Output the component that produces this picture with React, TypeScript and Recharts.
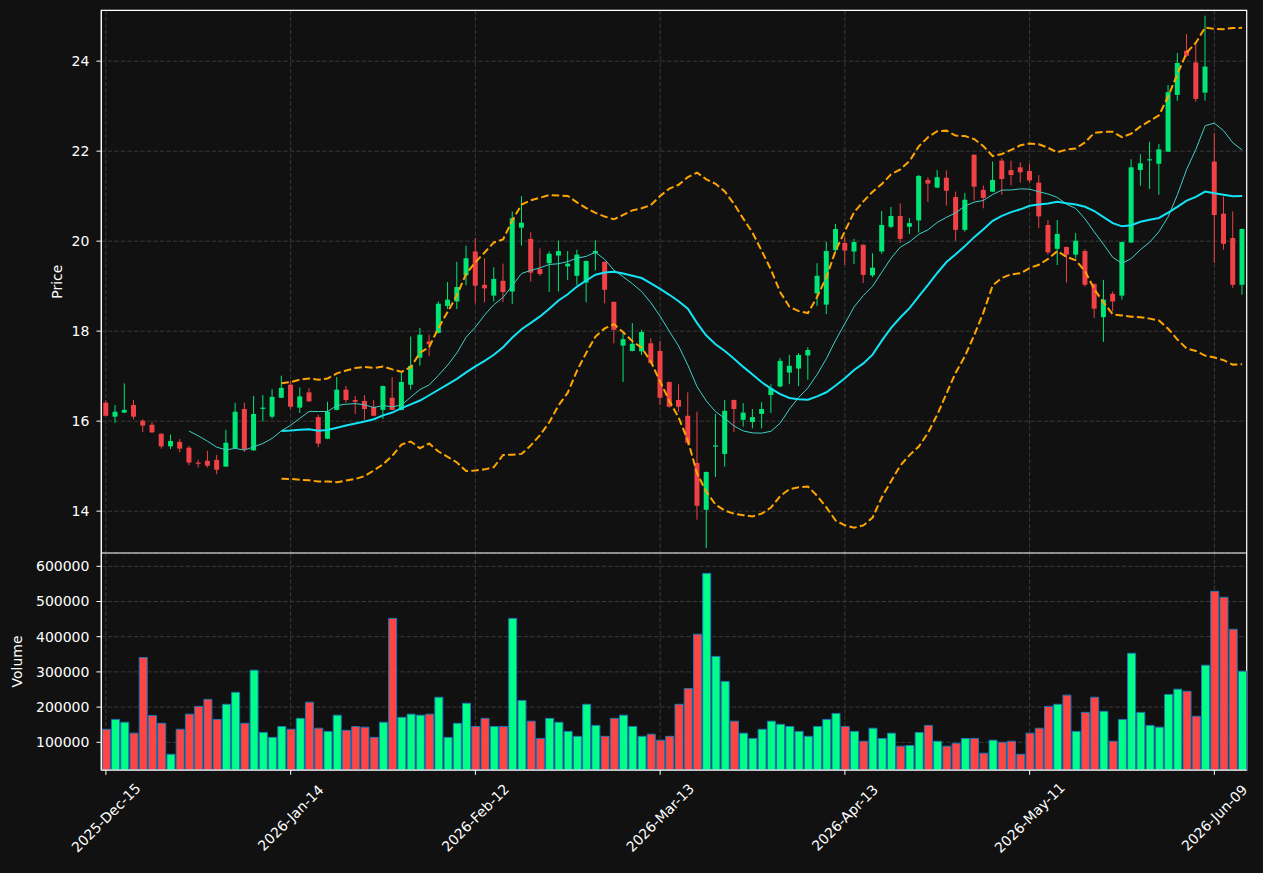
import React from 'react';
import { ComposedChart, Bar, Line, XAxis, YAxis, CartesianGrid, ReferenceArea, Cell } from 'recharts';

const dates = [
  '2025-Dec-15','2025-Dec-16','2025-Dec-17','2025-Dec-18','2025-Dec-19','2025-Dec-22','2025-Dec-23','2025-Dec-24','2025-Dec-26','2025-Dec-29',
  '2025-Dec-30','2025-Dec-31','2026-Jan-02','2026-Jan-05','2026-Jan-06','2026-Jan-07','2026-Jan-08','2026-Jan-09','2026-Jan-12','2026-Jan-13',
  '2026-Jan-14','2026-Jan-15','2026-Jan-16','2026-Jan-20','2026-Jan-21','2026-Jan-22','2026-Jan-23','2026-Jan-26','2026-Jan-27','2026-Jan-28',
  '2026-Jan-29','2026-Jan-30','2026-Feb-02','2026-Feb-03','2026-Feb-04','2026-Feb-05','2026-Feb-06','2026-Feb-09','2026-Feb-10','2026-Feb-11',
  '2026-Feb-12','2026-Feb-13','2026-Feb-17','2026-Feb-18','2026-Feb-19','2026-Feb-20','2026-Feb-23','2026-Feb-24','2026-Feb-25','2026-Feb-26',
  '2026-Feb-27','2026-Mar-02','2026-Mar-03','2026-Mar-04','2026-Mar-05','2026-Mar-06','2026-Mar-09','2026-Mar-10','2026-Mar-11','2026-Mar-12',
  '2026-Mar-13','2026-Mar-16','2026-Mar-17','2026-Mar-18','2026-Mar-19','2026-Mar-20','2026-Mar-23','2026-Mar-24','2026-Mar-25','2026-Mar-26',
  '2026-Mar-27','2026-Mar-30','2026-Mar-31','2026-Apr-01','2026-Apr-02','2026-Apr-06','2026-Apr-07','2026-Apr-08','2026-Apr-09','2026-Apr-10',
  '2026-Apr-13','2026-Apr-14','2026-Apr-15','2026-Apr-16','2026-Apr-17','2026-Apr-20','2026-Apr-21','2026-Apr-22','2026-Apr-23','2026-Apr-24',
  '2026-Apr-27','2026-Apr-28','2026-Apr-29','2026-Apr-30','2026-May-01','2026-May-04','2026-May-05','2026-May-06','2026-May-07','2026-May-08',
  '2026-May-11','2026-May-12','2026-May-13','2026-May-14','2026-May-15','2026-May-18','2026-May-19','2026-May-20','2026-May-21','2026-May-22',
  '2026-May-26','2026-May-27','2026-May-28','2026-May-29','2026-Jun-01','2026-Jun-02','2026-Jun-03','2026-Jun-04','2026-Jun-05','2026-Jun-08',
  '2026-Jun-09','2026-Jun-10','2026-Jun-11','2026-Jun-12',
];

const opens = [
  16.41,16.10,16.19,16.36,16.01,15.92,15.72,15.44,15.54,15.41,
  15.08,15.12,15.14,14.99,15.40,16.27,15.35,16.28,16.10,16.52,
  16.81,16.30,16.64,16.09,15.61,16.25,16.70,16.47,16.45,16.32,
  16.25,16.52,16.25,16.81,17.41,17.77,17.96,18.56,18.66,19.24,
  19.77,19.03,18.79,19.12,18.88,20.30,20.05,19.38,19.51,19.68,
  19.44,19.23,19.08,19.73,19.54,18.65,17.68,17.56,17.55,17.73,
  17.56,16.87,16.47,16.12,15.07,14.03,15.44,15.27,16.47,16.03,
  15.98,16.16,16.58,16.77,17.08,17.17,17.46,18.84,18.59,19.80,
  19.96,19.77,19.92,19.24,19.77,20.32,20.56,20.32,20.46,21.36,
  21.19,21.41,20.98,20.25,21.92,21.14,21.10,21.79,21.58,21.64,
  21.56,21.30,20.36,19.83,19.87,19.70,19.78,19.05,18.31,18.83,
  18.79,19.97,21.58,21.80,21.72,21.99,23.25,24.23,23.97,23.30,
  21.77,20.61,20.07,19.03,
];
const highs = [
  16.46,16.36,16.84,16.47,16.04,15.98,15.73,15.70,15.60,15.45,
  15.14,15.34,15.25,15.81,16.41,16.41,16.56,16.58,16.71,17.01,
  16.90,16.75,16.73,16.14,16.43,16.98,16.78,16.56,16.58,16.47,
  16.79,16.98,17.07,17.88,18.07,17.92,18.66,19.09,19.54,19.90,
  20.07,19.62,19.42,19.50,20.66,21.00,20.20,19.84,19.77,20.01,
  19.78,19.81,19.57,20.02,19.55,18.66,17.96,18.18,18.03,17.84,
  17.78,16.88,16.82,16.64,16.21,14.88,16.16,16.47,16.48,16.40,
  16.27,16.42,16.82,17.40,17.47,17.51,17.64,19.51,19.98,20.38,
  20.10,20.05,19.93,19.73,20.67,20.76,20.84,20.51,21.47,21.42,
  21.58,21.57,21.10,21.07,21.93,21.24,21.77,21.84,21.79,21.75,
  21.72,21.47,20.47,20.47,19.88,20.18,19.82,19.06,19.14,18.88,
  19.99,21.82,21.93,22.21,22.16,23.47,24.18,24.60,24.40,25.01,
  22.40,20.99,20.66,20.28,
];
const lows = [
  16.11,15.96,16.18,16.04,15.76,15.74,15.39,15.38,15.31,15.02,
  14.97,14.97,14.82,14.98,15.39,15.32,15.34,15.99,16.06,16.51,
  16.27,16.18,16.43,15.42,15.60,16.24,16.41,16.16,16.03,16.11,
  16.05,16.24,16.24,16.70,17.23,17.44,17.95,18.49,18.49,19.02,
  18.62,18.64,18.66,18.64,18.60,19.90,19.10,19.23,18.87,18.88,
  19.14,19.03,18.64,19.35,18.62,17.73,16.87,17.55,17.47,17.28,
  16.36,16.30,16.21,15.47,13.81,13.18,14.76,14.99,15.76,15.88,
  15.84,15.84,16.18,16.75,16.82,16.78,16.92,18.56,18.38,19.75,
  19.47,19.49,19.07,19.20,19.72,20.29,19.96,20.16,20.19,20.87,
  21.18,20.79,20.01,20.21,20.90,20.73,21.09,21.03,21.24,21.30,
  21.30,20.29,19.70,19.47,19.08,19.62,18.99,18.29,17.76,18.44,
  18.70,19.96,21.23,21.16,21.03,21.98,23.12,24.10,23.10,23.12,
  19.51,19.81,18.96,18.81,
];
const closes = [
  16.12,16.21,16.25,16.10,15.90,15.75,15.44,15.56,15.39,15.08,
  15.06,15.01,14.92,15.52,16.21,15.38,16.16,16.30,16.54,16.74,
  16.32,16.55,16.44,15.50,16.21,16.70,16.47,16.43,16.27,16.12,
  16.78,16.25,16.87,17.23,17.92,17.71,18.61,18.70,18.98,19.62,
  19.01,18.95,19.16,18.87,20.51,20.41,19.30,19.27,19.72,19.78,
  19.50,19.70,19.56,19.78,18.92,18.03,17.82,17.72,17.98,17.29,
  16.52,16.32,16.32,15.52,14.12,14.87,15.46,16.23,16.27,16.19,
  16.09,16.27,16.73,17.34,17.23,17.47,17.58,19.23,19.78,20.27,
  19.79,19.98,19.25,19.41,20.36,20.56,20.05,20.40,21.45,21.28,
  21.42,21.12,20.25,20.92,21.21,20.96,21.36,21.38,21.47,21.53,
  21.35,20.55,19.75,20.16,19.70,20.01,19.03,18.50,18.70,18.66,
  19.98,21.64,21.73,21.82,22.04,23.31,23.96,24.12,23.16,23.88,
  20.58,19.94,19.03,20.27,
];
const volumes = [
  137000,165000,157000,126000,341000,176000,154000,66000,137000,180000,
  202000,222000,165000,208000,242000,154000,305000,128000,114000,145000,
  137000,168000,214000,140000,131000,177000,134000,145000,143000,114000,
  157000,452000,171000,180000,177000,180000,228000,114000,154000,211000,
  145000,168000,145000,145000,452000,219000,160000,111000,168000,157000,
  131000,117000,208000,148000,117000,168000,177000,145000,117000,123000,
  106000,117000,208000,253000,407000,580000,344000,273000,160000,126000,
  111000,137000,160000,151000,145000,131000,117000,145000,165000,182000,
  145000,131000,103000,140000,111000,126000,89000,91000,128000,148000,
  103000,89000,97000,111000,111000,69000,106000,100000,103000,66000,
  126000,140000,202000,208000,234000,131000,185000,228000,188000,103000,
  165000,353000,185000,148000,143000,236000,251000,245000,174000,319000,
  529000,512000,421000,302000,
];

const xTickLabels = ['2025-Dec-15', '2026-Jan-14', '2026-Feb-12', '2026-Mar-13', '2026-Apr-13', '2026-May-11', '2026-Jun-09'];
const priceTicks = [14, 16, 18, 20, 22, 24];
const volumeTicks = [100000, 200000, 300000, 400000, 500000, 600000];
const priceDomain = [13.07, 25.13];
const volumeDomain = [21300, 637800];

const BG = '#111111';
const CANDLE_UP = '#00e676';
const CANDLE_DOWN = '#ef4146';
const VOL_UP = '#00ff88';
const VOL_DOWN = '#ff4444';
const GRID = '#3a3a3a';
const FONT = 'DejaVu Sans, sans-serif';

const sma = (arr: number[], n: number) =>
  arr.map((_, i) => (i < n - 1 ? null : arr.slice(i - n + 1, i + 1).reduce((a, b) => a + b, 0) / n));
const rollStd = (arr: number[], n: number) =>
  arr.map((_, i) => {
    if (i < n - 1) return null;
    const w = arr.slice(i - n + 1, i + 1);
    const m = w.reduce((a, b) => a + b, 0) / n;
    return Math.sqrt(w.reduce((a, b) => a + (b - m) * (b - m), 0) / n);
  });

const ma10 = sma(closes, 10);
const ma20 = sma(closes, 20);
const sd20 = rollStd(closes, 20);

const data = dates.map((date, i) => ({
  date,
  open: opens[i],
  high: highs[i],
  low: lows[i],
  close: closes[i],
  range: [lows[i], highs[i]],
  volume: volumes[i],
  up: closes[i] >= opens[i],
  ma10: ma10[i],
  ma20: ma20[i],
  upper: ma20[i] == null ? null : (ma20[i] as number) + 2 * (sd20[i] as number),
  lower: ma20[i] == null ? null : (ma20[i] as number) - 2 * (sd20[i] as number),
}));

const Candle = (props: any) => {
  const { x, y, width, height, payload } = props;
  if (x == null || y == null || !payload) return null;
  const { open, close, high, low } = payload;
  const top = Math.min(y, y + height);
  const h = Math.abs(height);
  const span = high - low;
  const toY = (v: number) => (span > 0 ? top + ((high - v) / span) * h : top);
  const color = close >= open ? CANDLE_UP : CANDLE_DOWN;
  const cx = x + width / 2;
  const bTop = toY(Math.max(open, close));
  const bBot = toY(Math.min(open, close));
  return (
    <g>
      <line x1={cx} x2={cx} y1={top} y2={top + h} stroke={color} strokeWidth={1} />
      <rect x={x} y={bTop} width={width} height={Math.max(bBot - bTop, 1.2)} fill={color} />
    </g>
  );
};

const axisLabel = (text: string, dx: number) => (p: any) => {
  const vb = p && p.viewBox ? p.viewBox : { x: 0, y: 0, width: 0, height: 0 };
  const cx = vb.x + dx;
  const cy = vb.y + vb.height / 2;
  return (
    <text x={cx} y={cy} transform={`rotate(-90, ${cx}, ${cy})`} textAnchor="middle" dominantBaseline="central"
      fill="#ffffff" fontSize={14} fontFamily={FONT}>
      {text}
    </text>
  );
};

const XTick = (props: any) => {
  const { x, y, payload } = props;
  const cy = y + 38;
  return (
    <text x={x} y={cy} transform={`rotate(-45, ${x}, ${cy})`} textAnchor="middle" dominantBaseline="central"
      fill="#ffffff" fontSize={14} fontFamily={FONT}>
      {payload.value}
    </text>
  );
};

const tickStyle = { fill: '#ffffff', fontSize: 14, fontFamily: FONT };

export default function App() {
  return (
    <div style={{ position: 'absolute', left: 0, top: 0, width: 1263, height: 873, background: BG, fontFamily: FONT }}>
      <div style={{ position: 'absolute', left: 0, top: 0 }}>
        <ComposedChart width={1263} height={553} data={data} margin={{ top: 10.3, right: 16.3, bottom: 0, left: 0 }} barGap={0}>
          <CartesianGrid stroke={GRID} strokeDasharray="4.5 2" ticks={undefined as any} />
          <XAxis dataKey="date" type="category" hide ticks={xTickLabels} interval={0} />
          <YAxis
            type="number"
            domain={priceDomain}
            allowDataOverflow
            ticks={priceTicks}
            width={101.3}
            tick={tickStyle}
            tickSize={4.86}
            tickMargin={7}
            tickLine={{ stroke: '#ffffff' }}
            axisLine={{ stroke: '#ffffff' }}
            label={axisLabel('Price', 57)}
          />
          <Line type="linear" dataKey="upper" stroke="#ffa500" strokeWidth={2} strokeDasharray="7.5 3.3" dot={false} isAnimationActive={false} />
          <Line type="linear" dataKey="lower" stroke="#ffa500" strokeWidth={2} strokeDasharray="7.5 3.3" dot={false} isAnimationActive={false} />
          <Bar dataKey="range" barSize={5} shape={Candle} isAnimationActive={false} />
          <Line type="linear" dataKey="ma10" stroke="#3fcfc6" strokeWidth={1} dot={false} isAnimationActive={false} />
          <Line type="linear" dataKey="ma20" stroke="#12e4f5" strokeWidth={2} dot={false} isAnimationActive={false} />
          <ReferenceArea y1={priceDomain[0]} y2={priceDomain[1]} fill="none" stroke="#ffffff" strokeWidth={1.2} ifOverflow="visible" />
        </ComposedChart>
      </div>
      <div style={{ position: 'absolute', left: 0, top: 553 }}>
        <ComposedChart width={1263} height={320} data={data} margin={{ top: 0, right: 16.3, bottom: 0, left: 0 }}>
          <CartesianGrid stroke={GRID} strokeDasharray="4.5 2" />
          <XAxis
            dataKey="date"
            type="category"
            ticks={xTickLabels}
            interval={0}
            height={103}
            tick={<XTick />}
            tickSize={4.86}
            tickMargin={4.86}
            tickLine={{ stroke: '#ffffff' }}
            axisLine={{ stroke: '#ffffff' }}
          />
          <YAxis
            type="number"
            domain={volumeDomain}
            allowDataOverflow
            ticks={volumeTicks}
            width={101.3}
            tick={tickStyle}
            tickSize={4.86}
            tickMargin={7}
            tickLine={{ stroke: '#ffffff' }}
            axisLine={{ stroke: '#ffffff' }}
            label={axisLabel('Volume', 17)}
          />
          <Bar dataKey="volume" barSize={8} stroke="#1f77b4" strokeWidth={1} isAnimationActive={false}>
            {data.map((d, i) => (
              <Cell key={i} fill={d.up ? VOL_UP : VOL_DOWN} />
            ))}
          </Bar>
          <ReferenceArea y1={volumeDomain[0]} y2={volumeDomain[1]} fill="none" stroke="#ffffff" strokeWidth={1.2} ifOverflow="visible" />
        </ComposedChart>
      </div>
    </div>
  );
}
